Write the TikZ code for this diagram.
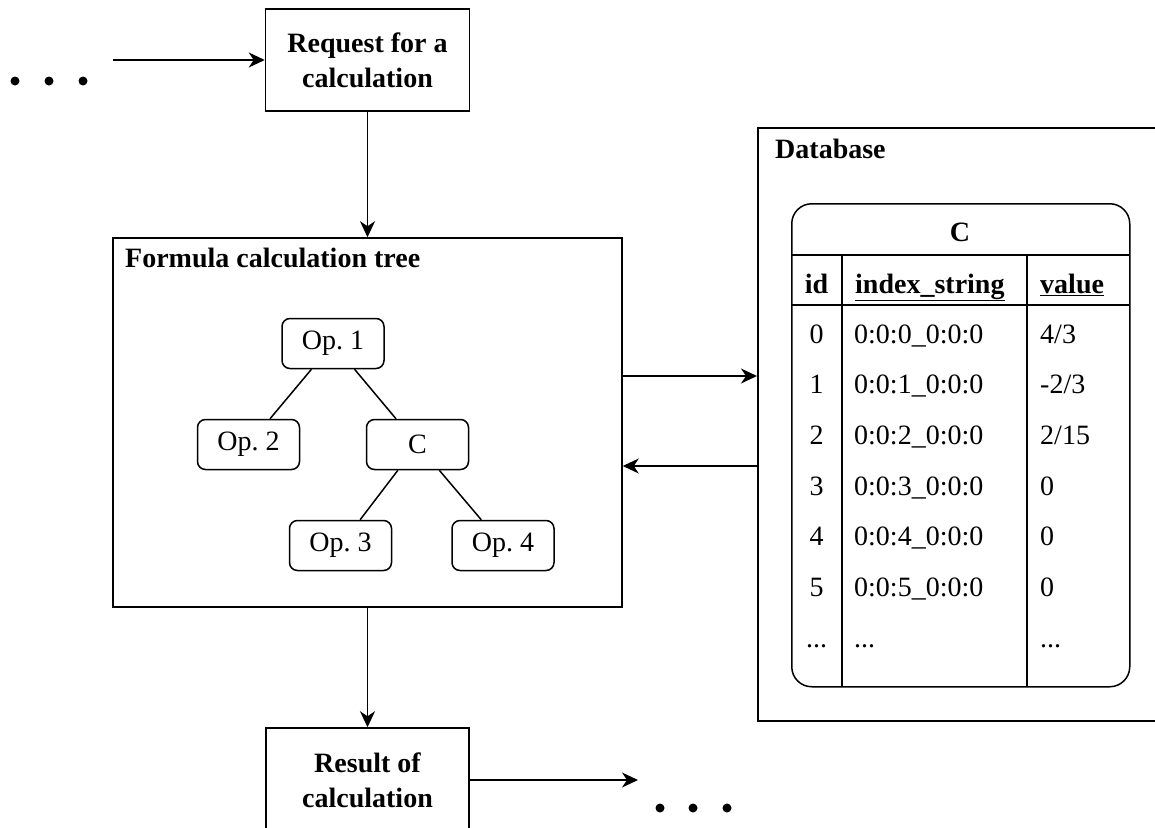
\documentclass[tikz,border=0pt]{standalone}
\usepackage{fontspec}
\setmainfont{Liberation Serif}
\usetikzlibrary{arrows.meta,calc}
\newcommand\fsz{\fontsize{28}{35}\selectfont}
\frenchspacing
\begin{document}
\begin{tikzpicture}[x=1pt,y=-1pt,
 lw/.style={line width=1.5pt},
 box/.style={draw, lw, inner sep=0pt},
 op/.style={box, rounded corners=8pt, minimum width=102pt, minimum height=50pt, font=\fsz},
 conn/.style={lw, -{Stealth[length=16pt,width=15pt,inset=5pt]}},
 txt/.style={inner sep=0pt, font=\fsz},
 btxt/.style={inner sep=0pt, font=\fsz\bfseries},
]
\useasboundingbox (0,0) rectangle (1155,827);
\clip (0,0) rectangle (1155,827);

% top request
\node[box, minimum width=204pt, minimum height=102pt, align=center, font=\fsz\bfseries] (req) at (367.5,60) {Request for a\\calculation};
\coordinate (lstart) at (113,60);
\draw[conn] (lstart) -- (req.west);
\fill (15,81) circle (4.5pt);
\fill (49,81) circle (4.5pt);
\fill (83,81) circle (4.5pt);

% formula tree container
\node[box, minimum width=509pt, minimum height=369pt] (ftree) at (367.5,422.5) {};
\node[btxt, anchor=base west] (ftitle) at (125,267) {Formula calculation tree};
\node[op] (op1) at (333,343.5) {Op. 1};
\node[op] (op2) at (248.5,444.5) {Op. 2};
\node[op] (opc) at (417.5,444.5) {C};
\node[op] (op3) at (340.5,545.5) {Op. 3};
\node[op] (op4) at (503,545.5) {Op. 4};
\draw[lw] (op1) -- (op2);
\draw[lw] (op1) -- (opc);
\draw[lw] (opc) -- (op3);
\draw[lw] (opc) -- (op4);

\draw[conn] (req) -- (ftree);

% result
\node[box, minimum width=203pt, minimum height=104pt, align=center, font=\fsz\bfseries] (res) at (367.5,780) {Result of\\calculation};
\draw[conn] (ftree) -- (res);
\coordinate (rend) at (638,780);
\draw[conn] (res.east) -- (rend);
\fill (660,808) circle (4.5pt);
\fill (693,808) circle (4.5pt);
\fill (727,808) circle (4.5pt);

% database
\node[box, minimum width=430pt, minimum height=593pt, anchor=north west] (db) at (757,127) {};
\node[btxt, anchor=base west] (dbtitle) at (775,158) {Database};
\coordinate (a1) at (0,376);
\coordinate (a2) at (0,466);
\draw[conn] (ftree.east |- a1) -- (db.west |- a1);
\draw[conn] (db.west |- a2) -- (ftree.east |- a2);

% table
\node[box, rounded corners=20pt, minimum width=338pt, minimum height=483pt, anchor=north west] (tbl) at (791,203) {};
\draw[lw] (791,255) -- (1129,255);
\draw[lw] (791,305) -- (1129,305);
\draw[lw] (842,255) -- (842,686);
\draw[lw] (1027,255) -- (1027,686);
\node[btxt, anchor=base] (tname) at (960,241) {C};
\node[btxt, anchor=base] (hid) at (816.5,293) {id};
\node[btxt, anchor=base west] (hidx) at (855,293) {\underline{index\_string}};
\node[btxt, anchor=base west] (hval) at (1040,293) {\underline{value}};

\node[txt, anchor=base] (i0) at (816.5,343) {0};
\node[txt, anchor=base west] (s0) at (854,343) {0:0:0\_0:0:0};
\node[txt, anchor=base west] (v0) at (1040,343) {4/3};
\node[txt, anchor=base] (i1) at (816.5,393.7) {1};
\node[txt, anchor=base west] (s1) at (854,393.7) {0:0:1\_0:0:0};
\node[txt, anchor=base west] (v1) at (1040,393.7) {-2/3};
\node[txt, anchor=base] (i2) at (816.5,444.4) {2};
\node[txt, anchor=base west] (s2) at (854,444.4) {0:0:2\_0:0:0};
\node[txt, anchor=base west] (v2) at (1040,444.4) {2/15};
\node[txt, anchor=base] (i3) at (816.5,495.1) {3};
\node[txt, anchor=base west] (s3) at (854,495.1) {0:0:3\_0:0:0};
\node[txt, anchor=base west] (v3) at (1040,495.1) {0};
\node[txt, anchor=base] (i4) at (816.5,545.8) {4};
\node[txt, anchor=base west] (s4) at (854,545.8) {0:0:4\_0:0:0};
\node[txt, anchor=base west] (v4) at (1040,545.8) {0};
\node[txt, anchor=base] (i5) at (816.5,596.5) {5};
\node[txt, anchor=base west] (s5) at (854,596.5) {0:0:5\_0:0:0};
\node[txt, anchor=base west] (v5) at (1040,596.5) {0};
\node[txt, anchor=base] (i6) at (816.5,647.2) {...};
\node[txt, anchor=base west] (s6) at (854,647.2) {...};
\node[txt, anchor=base west] (v6) at (1040,647.2) {...};
\end{tikzpicture}
\end{document}
